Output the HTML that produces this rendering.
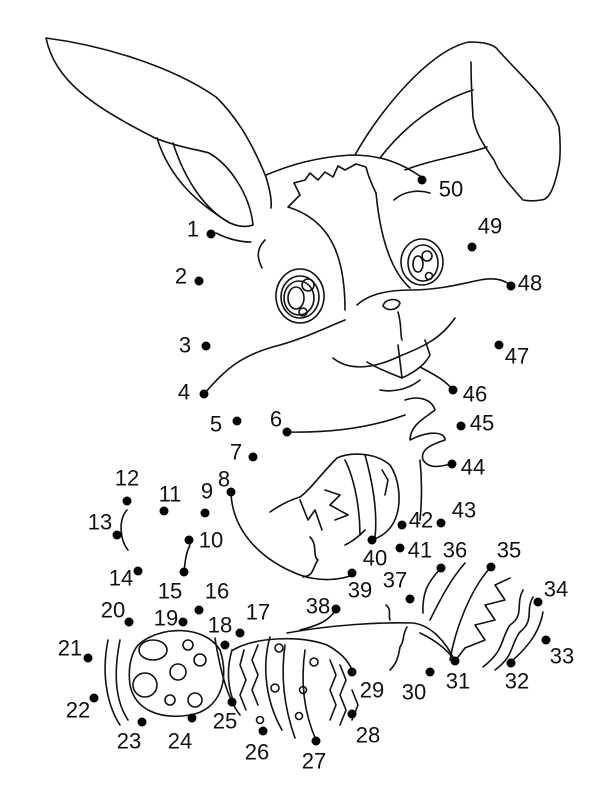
<!DOCTYPE html>
<html><head><meta charset="utf-8"><style>
html,body{margin:0;padding:0;background:#fff;width:600px;height:800px;overflow:hidden}
svg text{font-family:"Liberation Sans",sans-serif;font-size:22px;fill:#111}
</style></head><body>
<svg width="600" height="800" viewBox="0 0 600 800" xmlns="http://www.w3.org/2000/svg">
<g fill="none" stroke="#111" stroke-width="1.6" stroke-linecap="round" stroke-linejoin="round">
<!-- left ear -->
<path d="M266,177 C255,150 240,120 216,97 C170,65 100,45 46,38 C55,80 90,105 155,138 C180,148 200,150 209,153 C230,165 250,195 253,225 C245,228 237,226 230,223 C200,205 170,180 157,138"/>
<path d="M173,143 C185,180 205,210 230,223"/>
<path d="M266,177 C270,190 272,200 271,208"/>
<path d="M216,233 C230,240 242,242 251,242"/>
<!-- right ear -->
<path d="M355,155 C380,110 430,50 469,42 C485,42 495,45 498,50 C520,75 550,100 559,127 C561,145 560,160 559,165 C555,185 550,200 541,200 C530,202 525,200 523,200 C510,185 500,175 494,160 C480,140 475,130 473,117 C472,100 471,80 471,62"/>
<path d="M380,158 C405,125 440,100 473,90"/>
<path d="M405,170 C430,160 465,155 487,147"/>
<!-- head -->
<path d="M266,175 C290,165 316,157 351,155 C380,155 400,162 423,178"/>
<path d="M294,183 L305,180 L310,173 L318,180 L325,172 L333,177 L338,166 L345,170 L356,164 L366,167 C368,175 372,185 376,193"/>
<path d="M294,183 L300,195 L288,207 C330,220 345,255 345,310"/>
<path d="M376,193 C380,235 390,270 410,288"/>
<path d="M394,200 C405,190 420,190 430,193"/>
<path d="M265,240 C255,250 258,260 262,268"/>
<!-- eyes -->
<ellipse cx="300" cy="296" rx="24" ry="27"/>
<ellipse cx="300" cy="297" rx="19" ry="21"/>
<ellipse cx="299" cy="298" rx="15" ry="17"/>
<ellipse cx="296" cy="298" rx="8" ry="11"/>
<circle cx="308" cy="285" r="6"/>
<circle cx="303" cy="312" r="4"/>
<ellipse cx="422" cy="262" rx="21" ry="23"/>
<ellipse cx="423" cy="263" rx="15" ry="18"/>
<ellipse cx="418" cy="264" rx="5" ry="8"/>
<circle cx="427" cy="256" r="5"/>
<circle cx="429" cy="276" r="3.5"/>
<!-- muzzle -->
<path d="M357,305 C370,293 390,290 410,290 C440,290 465,283 480,280 C495,277 505,280 511,286"/>
<path d="M383,306 C385,298 398,298 400,303 C398,310 388,312 383,306 Z"/>
<path d="M398,312 C402,325 400,335 402,340"/>
<path d="M333,358 C350,372 375,368 400,356 C420,348 440,340 455,318"/>
<path d="M367,362 C380,370 395,375 402,378 L398,345 M402,378 C415,372 425,365 430,355 L425,340"/>
<path d="M420,367 C435,375 445,380 453,390"/>
<path d="M204,394 C225,370 240,355 280,345 C305,338 325,328 345,320"/>
<path d="M380,390 C395,393 410,388 420,380"/>
<!-- chin / hand -->
<path d="M287,432 C330,433 370,428 405,415"/>
<path d="M405,400 C420,395 432,400 435,410 C425,418 410,425 410,440 C430,430 445,432 445,440 C430,445 420,450 423,460 C430,470 440,466 452,464"/>
<path d="M420,460 C422,480 422,500 420,520"/>
<!-- body left arm -->
<path d="M231,492 C232,530 260,560 300,575 C320,582 340,580 353,575"/>
<path d="M270,512 C280,505 290,500 300,497"/>
<!-- egg in hand -->
<path d="M337,458 C350,452 375,452 390,465 C400,480 400,500 398,510 C395,525 387,535 372,540"/>
<path d="M337,458 C320,475 310,490 300,497"/>
<path d="M300,500 L308,520 L315,510 L322,530 M325,490 L340,495 L330,505 L348,515 L335,520 M345,460 C355,480 360,510 360,535 M365,455 C372,480 378,510 375,538 M382,470 L388,480 L385,495"/>
<path d="M310,537 C318,545 312,555 318,560 C312,568 315,575 303,577"/>
<path d="M345,545 C355,540 360,535 365,530"/>
<!-- left leaves / grass -->
<path d="M127,510 C118,520 120,540 128,550"/>
<path d="M190,545 C185,555 185,565 184,572"/>
<path d="M108,640 C100,680 110,710 120,725"/>
<path d="M120,640 C112,680 118,705 128,720"/>
<!-- egg left -->
<path d="M138,645 C160,625 205,625 220,650 C230,680 220,710 190,715 C160,720 135,710 130,685 C128,670 130,655 138,645 Z"/>
<ellipse cx="153" cy="650" rx="14" ry="10"/>
<ellipse cx="145" cy="685" rx="12" ry="12"/>
<circle cx="178" cy="672" r="8"/>
<circle cx="200" cy="660" r="6"/>
<circle cx="195" cy="700" r="7"/>
<circle cx="170" cy="700" r="5"/>
<circle cx="188" cy="645" r="5"/>
<!-- egg middle -->
<path d="M215,638 C220,670 228,700 240,715 M233,650 C255,637 300,635 327,645 C340,652 348,660 352,670 M232,650 C226,670 228,690 235,705"/>
<path d="M270,637 C262,665 265,700 282,730 M285,645 C280,680 285,710 295,738 M305,650 C300,685 305,715 316,740"/>
<path d="M244,650 L240,665 L246,680 L240,695 L246,710 M258,645 L252,660 L258,675 L252,690 L258,705"/>
<path d="M330,660 L336,675 L330,690 L336,705 L330,720 M340,665 L346,680 L340,695 L346,710 L340,725 M352,690 L358,705 L352,720"/>
<circle cx="279" cy="648" r="4"/><circle cx="275" cy="688" r="4"/><circle cx="314" cy="662" r="4"/><circle cx="303" cy="690" r="3.5"/><circle cx="299" cy="716" r="3.5"/><circle cx="260" cy="720" r="3.5"/>
<!-- foot -->
<path d="M287,633 C330,625 380,622 413,623 C430,625 445,640 455,661"/>
<path d="M407,627 C402,635 405,640 400,647 C398,660 395,665 390,670"/>
<path d="M336,609 C330,620 320,625 300,630"/>
<path d="M386,605 C392,610 388,615 390,620"/>
<path d="M420,633 C435,640 448,650 455,661"/>
<!-- right grass -->
<path d="M441,568 C430,580 422,590 423,613"/>
<path d="M465,563 C450,580 440,600 430,620"/>
<path d="M490,568 C470,590 455,630 450,660"/>
<path d="M510,578 L495,585 L505,600 L485,605 L495,620 L475,625 L485,640 L465,648 L455,661"/>
<path d="M523,590 C515,605 525,615 510,625 C500,640 505,650 483,667"/>
<path d="M533,597 C525,610 535,620 520,632 C510,645 515,655 495,670"/>
<path d="M543,612 C540,630 530,645 513,660"/>
</g>
<g fill="#000">
<circle cx="211" cy="234" r="4.5"/><circle cx="199" cy="281" r="4.5"/><circle cx="206" cy="346" r="4.5"/><circle cx="204" cy="394" r="4.5"/><circle cx="237" cy="421" r="4.5"/><circle cx="287" cy="432" r="4.5"/><circle cx="253" cy="457" r="4.5"/><circle cx="231" cy="492" r="4.5"/><circle cx="205" cy="513" r="4.5"/><circle cx="189" cy="540" r="4.5"/>
<circle cx="164" cy="511" r="4.5"/><circle cx="127" cy="501" r="4.5"/><circle cx="117" cy="535" r="4.5"/><circle cx="138" cy="571" r="4.5"/><circle cx="184" cy="572" r="4.5"/><circle cx="199" cy="610" r="4.5"/><circle cx="240" cy="633" r="4.5"/><circle cx="225" cy="645" r="4.5"/><circle cx="183" cy="622" r="4.5"/><circle cx="129" cy="622" r="4.5"/>
<circle cx="88" cy="658" r="4.5"/><circle cx="94" cy="698" r="4.5"/><circle cx="142" cy="722" r="4.5"/><circle cx="192" cy="718" r="4.5"/><circle cx="232" cy="702" r="4.5"/><circle cx="263" cy="731" r="4.5"/><circle cx="316" cy="741" r="4.5"/><circle cx="352" cy="714" r="4.5"/><circle cx="352" cy="672" r="4.5"/><circle cx="430" cy="672" r="4.5"/>
<circle cx="455" cy="661" r="4.5"/><circle cx="511" cy="663" r="4.5"/><circle cx="546" cy="640" r="4.5"/><circle cx="538" cy="602" r="4.5"/><circle cx="491" cy="567" r="4.5"/><circle cx="441" cy="568" r="4.5"/><circle cx="410" cy="599" r="4.5"/><circle cx="336" cy="609" r="4.5"/><circle cx="352" cy="573" r="4.5"/><circle cx="372" cy="540" r="4.5"/>
<circle cx="400" cy="548" r="4.5"/><circle cx="402" cy="525" r="4.5"/><circle cx="441" cy="523" r="4.5"/><circle cx="452" cy="464" r="4.5"/><circle cx="461" cy="426" r="4.5"/><circle cx="453" cy="390" r="4.5"/><circle cx="499" cy="345" r="4.5"/><circle cx="511" cy="286" r="4.5"/><circle cx="472" cy="247" r="4.5"/><circle cx="422" cy="180" r="4.5"/>
</g>
<g text-anchor="middle" dominant-baseline="central">
<text x="193" y="229">1</text><text x="181" y="276">2</text><text x="185" y="345">3</text><text x="184" y="392">4</text><text x="216" y="424">5</text><text x="276" y="419">6</text><text x="236" y="452">7</text><text x="224" y="479">8</text><text x="207" y="491">9</text><text x="211" y="540">10</text>
<text x="170" y="494">11</text><text x="127" y="478">12</text><text x="100" y="522">13</text><text x="121" y="578">14</text><text x="170" y="591">15</text><text x="217" y="591">16</text><text x="258" y="612">17</text><text x="220" y="625">18</text><text x="166" y="618">19</text><text x="113" y="610">20</text>
<text x="70" y="648">21</text><text x="78" y="710">22</text><text x="129" y="741">23</text><text x="180" y="741">24</text><text x="225" y="721">25</text><text x="257" y="752">26</text><text x="314" y="761">27</text><text x="368" y="735">28</text><text x="372" y="690">29</text><text x="414" y="692">30</text>
<text x="458" y="681">31</text><text x="517" y="681">32</text><text x="562" y="656">33</text><text x="556" y="589">34</text><text x="509" y="550">35</text><text x="455" y="550">36</text><text x="395" y="580">37</text><text x="318" y="606">38</text><text x="360" y="590">39</text><text x="375" y="558">40</text>
<text x="420" y="550">41</text><text x="421" y="520">42</text><text x="464" y="510">43</text><text x="473" y="467">44</text><text x="482" y="423">45</text><text x="475" y="394">46</text><text x="517" y="356">47</text><text x="530" y="283">48</text><text x="490" y="226">49</text><text x="451" y="189">50</text>
</g>
</svg>
</body></html>
